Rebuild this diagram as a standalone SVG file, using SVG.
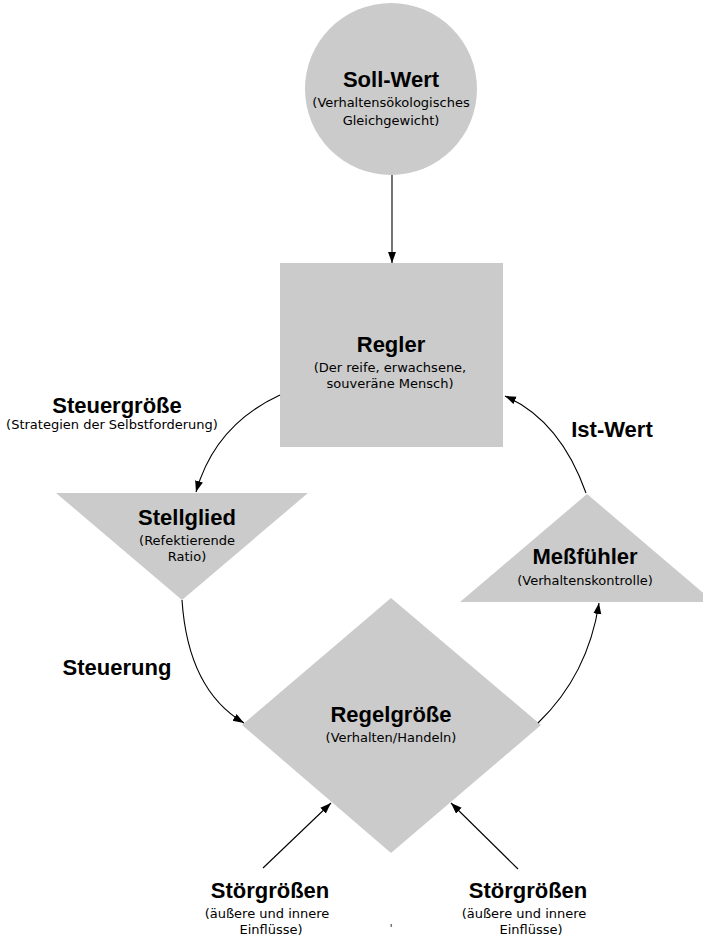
<svg xmlns="http://www.w3.org/2000/svg" width="703" height="940" viewBox="0 0 703 940">
<style>
.shape{fill:#cbcbcb;stroke:none}
.t{font-family:"Liberation Sans",Arial,sans-serif;font-weight:bold;font-size:22px;fill:#000;text-anchor:middle}
.s{font-family:"DejaVu Sans","Liberation Sans",sans-serif;font-size:13px;fill:#000;text-anchor:middle}
.c{fill:none;stroke:#000;stroke-width:1.1}
</style>
<defs>
<marker id="ah" markerWidth="12" markerHeight="9" refX="11" refY="4" orient="auto" markerUnits="userSpaceOnUse">
<path d="M0,0 L11,4 L0,8 z" fill="#000"/>
</marker>
</defs>
<rect width="703" height="940" fill="#fff"/>
<g id="soll-wert">
<circle class="shape" cx="391" cy="89" r="86"/>
<text class="t" x="391" y="87">Soll-Wert</text>
<text class="s" x="391" y="107">(Verhaltensökologisches</text>
<text class="s" x="391" y="125">Gleichgewicht)</text>
</g>
<g id="regler">
<rect class="shape" x="280" y="263" width="223" height="184"/>
<text class="t" x="391" y="352">Regler</text>
<text class="s" x="390" y="372">(Der reife, erwachsene,</text>
<text class="s" x="390" y="388">souveräne Mensch)</text>
</g>
<g id="steuergroesse">
<text class="t" x="117" y="413">Steuergröße</text>
<text class="s" x="112" y="429">(Strategien der Selbstforderung)</text>
</g>
<g id="stellglied">
<polygon class="shape" points="56,493 308,493 182,600"/>
<text class="t" x="187" y="525">Stellglied</text>
<text class="s" x="187" y="545">(Refektierende</text>
<text class="s" x="187" y="561">Ratio)</text>
</g>
<g id="steuerung">
<text class="t" x="117" y="675">Steuerung</text>
</g>
<g id="regelgroesse">
<polygon class="shape" points="391,598 541,725 391,853 242,725"/>
<text class="t" x="391" y="722">Regelgröße</text>
<text class="s" x="391" y="742">(Verhalten/Handeln)</text>
</g>
<g id="ist-wert">
<text class="t" x="612" y="437">Ist-Wert</text>
</g>
<g id="messfuehler">
<polygon class="shape" points="587,494 714,602 460,602"/>
<text class="t" x="585" y="564">Meßfühler</text>
<text class="s" x="585" y="585">(Verhaltenskontrolle)</text>
</g>
<g id="stoergroessen-links">
<text class="t" x="270" y="898">Störgrößen</text>
<text class="s" x="267" y="918">(äußere und innere</text>
<text class="s" x="271" y="934">Einflüsse)</text>
</g>
<g id="stoergroessen-rechts">
<text class="t" x="528" y="898">Störgrößen</text>
<text class="s" x="524" y="918">(äußere und innere</text>
<text class="s" x="531" y="934">Einflüsse)</text>
</g>
<g id="tick">
<text class="s" x="391" y="932" style="font-size:10px">'</text>
</g>
<g id="connectors">
<path class="c" d="M392,175 L392,263" marker-end="url(#ah)"/>
<path class="c" d="M280,395 Q215,425 196,492" marker-end="url(#ah)"/>
<path class="c" d="M182,600 Q188,690 244,723" marker-end="url(#ah)"/>
<path class="c" d="M538,723 Q588,675 599,603" marker-end="url(#ah)"/>
<path class="c" d="M586,493 Q560,420 505,396" marker-end="url(#ah)"/>
<path class="c" d="M263,868 L331,803" marker-end="url(#ah)"/>
<path class="c" d="M518,869 L451,803" marker-end="url(#ah)"/>
</g>
</svg>
